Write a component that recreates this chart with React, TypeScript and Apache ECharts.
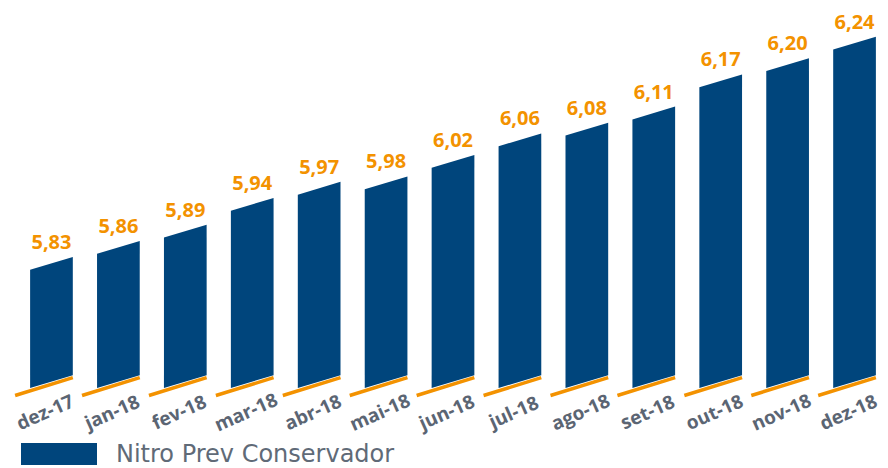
import React, { useEffect, useRef } from "react";
import * as echarts from "echarts";

const categories = ["dez-17", "jan-18", "fev-18", "mar-18", "abr-18", "mai-18", "jun-18", "jul-18", "ago-18", "set-18", "out-18", "nov-18", "dez-18"];
const values = [5.83, 5.86, 5.89, 5.94, 5.97, 5.98, 6.02, 6.06, 6.08, 6.11, 6.17, 6.2, 6.24];
const seriesName = "Nitro Prev Conservador";

const Y_MIN = 5.61;
const Y_MAX = 6.31;
const BAR_COLOR = "#00457c";
const ORANGE = "#f39200";
const GRAY = "#5b6573";

export default function App() {
  const ref = useRef<HTMLDivElement>(null);
  useEffect(() => {
    if (!ref.current) return;
    const chart = echarts.init(ref.current, undefined, { renderer: "svg" });
    const renderItem = (params: any, api: any) => {
      const idx = api.value(0);
      const v = api.value(1);
      const top = api.coord([idx, v]);
      const base = api.coord([idx, Y_MIN]);
      const band = api.size([1, 0])[0];
      const bw = band * 0.638;
      const cx = top[0];
      const x0 = cx - bw / 2;
      const x1 = cx + bw / 2;
      const s = bw * 0.3;
      const yt = top[1];
      const yb = base[1];
      const fmt = v.toFixed(2).replace(".", ",");
      return {
        type: "group",
        children: [
          {
            type: "polygon",
            shape: { points: [[x0, yb], [x1, yb - s], [x1, yt - s], [x0, yt]] },
            style: { fill: BAR_COLOR },
          },
          {
            type: "line",
            shape: { x1: x0 - 15, y1: yb + 7.5, x2: x1, y2: yb - s + 2.5 },
            style: { stroke: ORANGE, lineWidth: 3.5 },
          },
          {
            type: "text",
            x: cx,
            y: yt - s / 2 - 22,
            style: {
              text: fmt,
              fill: ORANGE,
              fontFamily: "Open Sans",
              fontWeight: "bold",
              fontSize: 20,
              align: "center",
              verticalAlign: "middle",
            },
          },
        ],
      };
    };
    chart.setOption({
      animation: false,
      grid: { left: 18, width: 876, top: 12, height: 376 },
      xAxis: {
        type: "category",
        data: categories,
        axisLine: { show: false },
        axisTick: { show: false },
        axisLabel: {
          show: true,
          interval: 0,
          rotate: 24,
          align: "center",
          verticalAlign: "middle",
          margin: 21,
          padding: [0, 14, 0, 0],
          color: GRAY,
          fontFamily: "Open Sans",
          fontWeight: "bold",
          fontSize: 19,
        },
      },
      yAxis: {
        type: "value",
        min: Y_MIN,
        max: Y_MAX,
        show: false,
        splitLine: { show: false },
      },
      legend: {
        left: 21,
        top: 442,
        padding: 0,
        itemWidth: 76,
        itemHeight: 22,
        icon: "rect",
        data: [seriesName],
        textStyle: {
          fontFamily: "DejaVu Sans",
          fontSize: 24,
          lineHeight: 22,
          color: "#606a77",
          padding: [0, 0, 0, 14],
        },
      },
      series: [
        {
          type: "custom",
          name: seriesName,
          itemStyle: { color: BAR_COLOR },
          renderItem,
          encode: { x: 0, y: 1 },
          data: values.map((v, i) => [i, v]),
        },
      ],
    });
    return () => chart.dispose();
  }, []);
  return (
    <div
      ref={ref}
      style={{ position: "absolute", left: 0, top: 0, width: 888, height: 468 }}
    />
  );
}
